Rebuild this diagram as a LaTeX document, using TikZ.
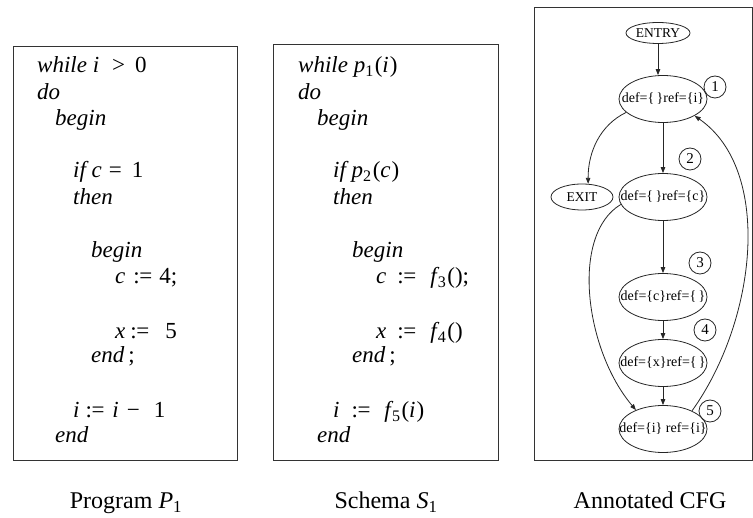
\documentclass[tikz,border=0pt]{standalone}
\usepackage{fontspec}
\setmainfont{Liberation Serif}
\usetikzlibrary{shapes.geometric,arrows.meta}
\newcommand\asg{:\kern-0.02em=}
\begin{document}
\begin{tikzpicture}[x=1pt,y=-1pt,
  codeline/.style={anchor=base west, inner sep=0pt, font=\fontsize{23}{26}\selectfont},
  caption/.style={anchor=base, inner sep=0pt, font=\fontsize{24}{28}\selectfont},
  panel/.style={draw=black!80, line width=0.9pt},
  blk/.style={draw=black!85, ellipse, line width=0.8pt, inner sep=0pt, minimum width=88pt, minimum height=47pt, font=\fontsize{14}{16}\selectfont},
  term/.style={draw=black!85, ellipse, line width=0.8pt, inner sep=0pt, font=\fontsize{13.5}{15}\selectfont},
  num/.style={draw=black!85, circle, line width=0.8pt, inner sep=0pt, minimum size=22pt, font=\fontsize{15}{17}\selectfont},
  flow/.style={draw=black!85, line width=0.8pt, -{Triangle[length=6pt,width=4.5pt]}}
]
\useasboundingbox (0,0) rectangle (753,518);

% ---------- Program P1 ----------
\draw[panel] (13,46) rectangle (237,460);
\node[codeline] (a1) at (37,73) {\textit{while i}\hspace{13pt}>\hspace{10pt}0};
\node[codeline] (a2) at (37,100) {\textit{do}};
\node[codeline] (a3) at (55,126) {\textit{begin}};
\node[codeline] (a4) at (73,178) {\textit{if c}\hspace{7pt}=\hspace{10pt}1};
\node[codeline] (a5) at (73,205) {\textit{then}};
\node[codeline] (a6) at (91,258) {\textit{begin}};
\node[codeline] (a7) at (115,284) {\textit{c}\hspace{8pt}\asg\hspace{7pt}4;};
\node[codeline] (a8) at (115,339) {\textit{x}\hspace{5pt}\asg\hspace{16pt}5};
\node[codeline] (a9) at (91,363) {\textit{end}\,;};
\node[codeline] (a10) at (73,418) {\textit{i}\hspace{6pt}\asg\hspace{8pt}\textit{i}\hspace{8pt}−\hspace{14pt}1};
\node[codeline] (a11) at (55,443) {\textit{end}};

% ---------- Schema S1 ----------
\draw[panel] (273,44) rectangle (498,460);
\node[codeline] (b1) at (298,73) {\textit{while p}\textsubscript{1}\kern1pt(\textit{i}\kern1pt)};
\node[codeline] (b2) at (298,100) {\textit{do}};
\node[codeline] (b3) at (317,126) {\textit{begin}};
\node[codeline] (b4) at (333,178) {\textit{if p}\textsubscript{2}\kern1pt(\textit{c}\kern1pt)};
\node[codeline] (b5) at (333,205) {\textit{then}};
\node[codeline] (b6) at (352,258) {\textit{begin}};
\node[codeline] (b7) at (376,284) {\textit{c}\hspace{11pt}\asg\hspace{14pt}\textit{f}\kern-1.5pt\textsubscript{3}\kern1pt();};
\node[codeline] (b8) at (376,339) {\textit{x}\hspace{11pt}\asg\hspace{14pt}\textit{f}\kern-1.5pt\textsubscript{4}\kern1pt()};
\node[codeline] (b9) at (352,363) {\textit{end}\,;};
\node[codeline] (b10) at (333,418) {\textit{i}\hspace{12pt}\asg\hspace{14pt}\textit{f}\kern-1.5pt\textsubscript{5}\kern1pt(\textit{i}\kern1pt)};
\node[codeline] (b11) at (317,443) {\textit{end}};

% ---------- Annotated CFG ----------
\draw[panel] (534,7) rectangle (752,460);
\node[term, minimum width=64pt, minimum height=21pt] (entry) at (658,33) {\makebox[0pt]{ENTRY}};
\node[blk] (n1) at (663,99) {\makebox[0pt]{def=\{\,\}ref=\{i\}}};
\node[blk] (n2) at (663,197) {\makebox[0pt]{def=\{\,\}ref=\{c\}}};
\node[blk] (n3) at (663,297) {\makebox[0pt]{def=\{c\}ref=\{\,\}}};
\node[blk] (n4) at (663,363) {\makebox[0pt]{def=\{x\}ref=\{\,\}}};
\node[blk] (n5) at (663,429) {\makebox[0pt]{def=\{i\} ref=\{i\}}};
\node[term, minimum width=62pt, minimum height=26pt] (exit) at (582,197) {\makebox[0pt]{EXIT}};

\node[num] (k1) at (715,87) {1};
\node[num] (k2) at (690,159) {2};
\node[num] (k3) at (700,263) {3};
\node[num] (k4) at (705,330) {4};
\node[num] (k5) at (710,411) {5};

\draw[flow] (entry) -- (entry.south |- n1.north);
\draw[flow] (n1) -- (n2);
\draw[flow] (n2) -- (n3);
\draw[flow] (n3) -- (n4);
\draw[flow] (n4) -- (n5);
\draw[flow] (n1.200) .. controls (600,125) and (588,152) .. (exit.65);
\draw[flow] (n2.190) .. controls (570,235) and (585,350) .. (n5.145);
\draw[flow] (n5.32) .. controls (757,320) and (773,170) .. (n1.-28);

% ---------- captions ----------
\node[caption] (l1) at (126,509) {Program \textit{P}\textsubscript{1}};
\node[caption] (l2) at (386,509) {Schema \textit{S}\textsubscript{1}};
\node[caption] (l3) at (650,509) {Annotated CFG};
\end{tikzpicture}
\end{document}
